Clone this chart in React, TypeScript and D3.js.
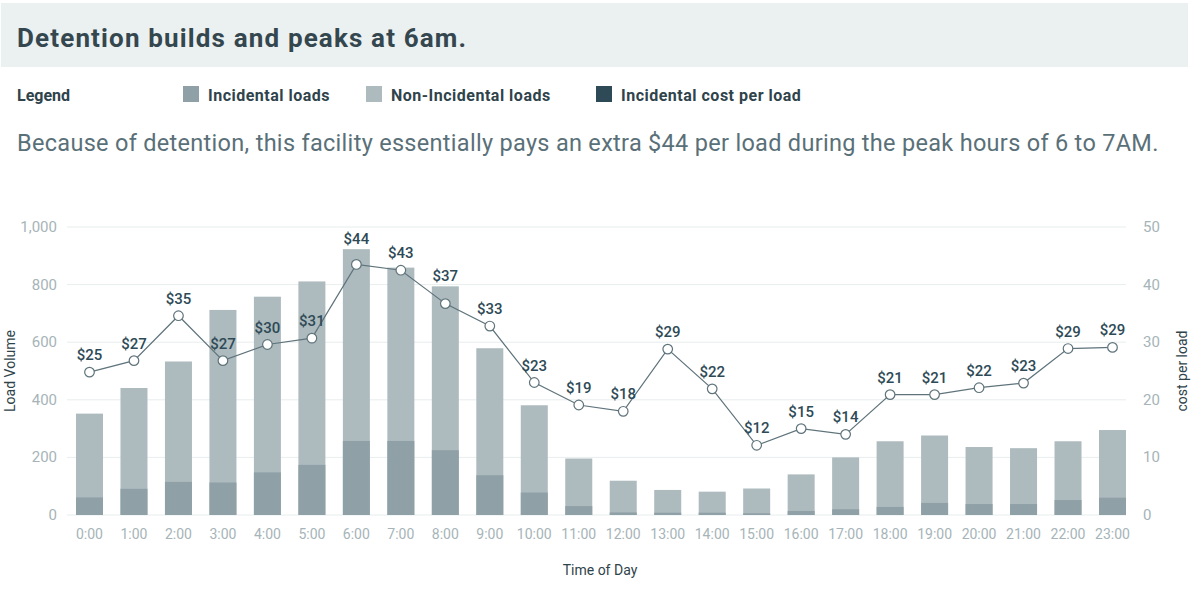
import * as d3 from 'd3';
import React, { useEffect, useRef } from 'react';

const hours = [
    '0:00', '1:00', '2:00', '3:00', '4:00', '5:00', '6:00', '7:00', '8:00', '9:00', '10:00', '11:00',
    '12:00', '13:00', '14:00', '15:00', '16:00', '17:00', '18:00', '19:00', '20:00', '21:00', '22:00', '23:00',
];
const totalLoads = [352, 441, 533, 712, 758, 811, 923, 859, 794, 579, 381, 196, 119, 87, 81, 92, 141, 200, 256, 276, 236, 232, 256, 295];
const incidentalLoads = [61, 91, 115, 113, 148, 174, 257, 257, 225, 138, 78, 31, 9, 8, 8, 6, 14, 20, 28, 42, 38, 38, 52, 60];
const costPerLoad = [24.8, 26.8, 34.6, 26.8, 29.6, 30.7, 43.5, 42.5, 36.7, 32.8, 23.0, 19.1, 18.0, 28.8, 21.9, 12.1, 15.0, 14.0, 20.9, 20.9, 22.1, 22.9, 28.9, 29.1];
const loadTicks = [0, 200, 400, 600, 800, 1000];
const costTicks = [0, 10, 20, 30, 40, 50];
const legendItems = [
    { label: 'Incidental loads', color: '#8fa1a7', x: 183 },
    { label: 'Non-Incidental loads', color: '#adbabe', x: 366 },
    { label: 'Incidental cost per load', color: '#2e4a56', x: 596 },
];

const FONT = 'Roboto, "Noto Sans", sans-serif';

const App: React.FC = () => {
    const svgRef = useRef<SVGSVGElement | null>(null);

    useEffect(() => {
        document.body.style.margin = '0';
        const width = 1200;
        const height = 590;
        const l = 67;
        const r = 1126;
        const t = 227;
        const b = 515;

        const svg = d3.select(svgRef.current).attr('width', width).attr('height', height);
        svg.selectAll('*').remove();
        svg.append('rect').attr('width', width).attr('height', height).attr('fill', '#fff');

        // header band
        svg.append('rect').attr('x', 1).attr('y', 3).attr('width', 1187).attr('height', 64).attr('fill', '#ebf0f0');
        svg.append('text')
            .attr('x', 17).attr('y', 47)
            .attr('font-family', FONT).attr('font-size', 26).attr('font-weight', 700)
            .attr('letter-spacing', 1.15)
            .attr('fill', '#34474f')
            .text('Detention builds and peaks at 6am.');

        // legend
        svg.append('text')
            .attr('x', 17).attr('y', 101)
            .attr('font-family', FONT).attr('font-size', 16).attr('font-weight', 700)
            .attr('fill', '#2f434b').text('Legend');
        const lg = svg.append('g');
        legendItems.forEach(item => {
            lg.append('rect').attr('x', item.x).attr('y', 86).attr('width', 16).attr('height', 16).attr('fill', item.color);
            lg.append('text')
                .attr('x', item.x + 25).attr('y', 101)
                .attr('font-family', FONT).attr('font-size', 16).attr('font-weight', 700)
                .attr('letter-spacing', 0.5)
                .attr('fill', '#2f434b').text(item.label);
        });

        svg.append('text')
            .attr('x', 17).attr('y', 151)
            .attr('font-family', FONT).attr('font-size', 23.5)
            .attr('letter-spacing', 0.3)
            .attr('fill', '#5a7079')
            .text('Because of detention, this facility essentially pays an extra $44 per load during the peak hours of 6 to 7AM.');

        const x = d3.scaleBand<string>().domain(hours).range([76, r]).paddingInner(0.393).paddingOuter(0);
        const y = d3.scaleLinear().domain([0, 1000]).range([b, t]);
        const y2 = d3.scaleLinear().domain([0, 50]).range([b, t]);

        // gridlines
        svg.append('g').selectAll('line').data(loadTicks).enter().append('line')
            .attr('x1', l).attr('x2', r)
            .attr('y1', d => y(d)).attr('y2', d => y(d))
            .attr('stroke', '#e8eded').attr('stroke-width', 1);

        // left axis labels
        svg.append('g').selectAll('text').data(loadTicks).enter().append('text')
            .attr('x', 57).attr('y', d => y(d) + 5)
            .attr('text-anchor', 'end')
            .attr('font-family', FONT).attr('font-size', 15)
            .attr('fill', '#a6b4b8')
            .text(d => d3.format(',')(d));

        // right axis labels
        svg.append('g').selectAll('text').data(costTicks).enter().append('text')
            .attr('x', 1143).attr('y', d => y2(d) + 5)
            .attr('font-family', FONT).attr('font-size', 15)
            .attr('fill', '#a6b4b8')
            .text(d => d);

        // bars
        const bars = svg.append('g');
        bars.selectAll('rect.total').data(hours).enter().append('rect')
            .attr('class', 'total')
            .attr('x', d => x(d)!)
            .attr('width', x.bandwidth())
            .attr('y', (d, i) => y(totalLoads[i]))
            .attr('height', (d, i) => b - y(totalLoads[i]))
            .attr('fill', '#adbabe');
        bars.selectAll('rect.inc').data(hours).enter().append('rect')
            .attr('class', 'inc')
            .attr('x', d => x(d)!)
            .attr('width', x.bandwidth())
            .attr('y', (d, i) => y(incidentalLoads[i]))
            .attr('height', (d, i) => b - y(incidentalLoads[i]))
            .attr('fill', '#8fa1a7');

        // x tick labels
        svg.append('g').selectAll('text').data(hours).enter().append('text')
            .attr('x', d => x(d)! + x.bandwidth() / 2)
            .attr('y', 539)
            .attr('text-anchor', 'middle')
            .attr('font-family', FONT).attr('font-size', 14)
            .attr('fill', '#a6b4b8')
            .text(d => d);

        // cost line
        const cx = (i: number) => x(hours[i])! + x.bandwidth() / 2;
        const line = d3.line<number>().x((d, i) => cx(i)).y(d => y2(d));
        svg.append('path')
            .datum(costPerLoad)
            .attr('d', line)
            .attr('fill', 'none')
            .attr('stroke', '#5f737b')
            .attr('stroke-width', 1.2);
        svg.append('g').selectAll('circle').data(costPerLoad).enter().append('circle')
            .attr('cx', (d, i) => cx(i))
            .attr('cy', d => y2(d))
            .attr('r', 4.8)
            .attr('fill', '#fff')
            .attr('stroke', '#5f737b')
            .attr('stroke-width', 1.2);

        svg.append('g').selectAll('text').data(costPerLoad).enter().append('text')
            .attr('x', (d, i) => cx(i))
            .attr('y', (d, i) => {
                const py = y2(d);
                const top = y(totalLoads[i]);
                const gap = py - top;
                return gap >= -5 && gap < 25 ? Math.min(py - 12, top - 5) : py - 12;
            })
            .attr('text-anchor', 'middle')
            .attr('font-family', FONT).attr('font-size', 15).attr('font-weight', 500)
            .attr('fill', '#2e4a56')
            .text(d => `$${Math.round(d)}`);

        // axis titles
        svg.append('text')
            .attr('transform', `translate(15, ${(t + b) / 2}) rotate(-90)`)
            .attr('text-anchor', 'middle')
            .attr('font-family', FONT).attr('font-size', 14)
            .attr('fill', '#2f434b').text('Load Volume');
        svg.append('text')
            .attr('transform', `translate(1187, ${(t + b) / 2}) rotate(-90)`)
            .attr('text-anchor', 'middle')
            .attr('font-family', FONT).attr('font-size', 14)
            .attr('fill', '#2f434b').text('cost per load');
        svg.append('text')
            .attr('x', 600).attr('y', 575)
            .attr('text-anchor', 'middle')
            .attr('font-family', FONT).attr('font-size', 14)
            .attr('fill', '#2f434b').text('Time of Day');
    }, []);

    return <svg ref={svgRef} style={{ display: 'block' }}></svg>;
};

export default App;
